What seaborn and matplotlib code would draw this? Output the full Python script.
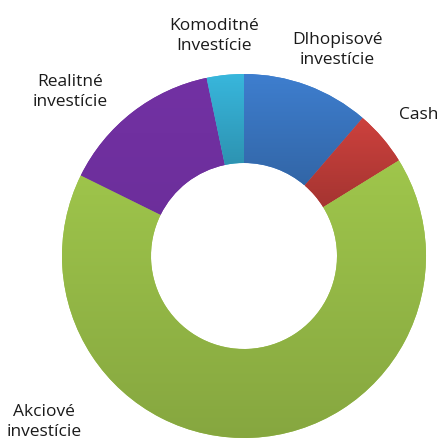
import numpy as np
import seaborn as sns
import matplotlib.pyplot as plt
from matplotlib.colors import LinearSegmentedColormap, to_rgb

# donut chart data (clockwise from top)
labels = ["Dlhopisové\ninvestície", "Cash", "Akciové\ninvestície",
          "Realitné\ninvestície", "Komoditné\nInvestície"]
values = [11.3, 4.9, 66.1, 14.4, 3.3]
colors = ["#3D7CCB", "#C9403C", "#9CC24A", "#7030A0", "#37B3D8"]
shade = [0.82, 0.82, 0.86, 0.97, 0.82]  # how dark the bottom of each gradient gets
# label positions in pixel coords (x, y from top)
label_pos = [(337, 50), (419, 115), (44, 422), (70, 92), (214, 36)]

sns.set_style("white")
plt.rcParams['font.family'] = ['Open Sans', 'DejaVu Sans']

W, H = 440, 441
fig = plt.figure(figsize=(W / 100, H / 100), dpi=100)
ax = fig.add_axes([0, 0, 1, 1])

cx, cy, r_out, r_in = 244, H - 256, 182, 93

wedges, _ = ax.pie(values, colors=colors, startangle=90, counterclock=False,
                   radius=r_out, center=(cx, cy), frame=True,
                   wedgeprops=dict(width=r_out - r_in, edgecolor="none"))

# vertical gradient per wedge (lighter top, darker bottom)
for w, c, s in zip(wedges, colors, shade):
    base = np.array(to_rgb(c))
    top = np.clip(base * 1.02, 0, 1)
    bot = base * s
    cmap = LinearSegmentedColormap.from_list("g", [bot, top])
    bb = w.get_path().get_extents()
    grad = np.linspace(0, 1, 256).reshape(-1, 1)
    im = ax.imshow(grad, cmap=cmap, origin="lower", aspect="auto",
                   extent=(bb.x0, bb.x1, bb.y0, bb.y1), zorder=w.get_zorder())
    im.set_clip_path(w)

ax.set_xlim(0, W)
ax.set_ylim(0, H)
ax.set_aspect("equal")
ax.axis("off")

for lab, (x, y) in zip(labels, label_pos):
    ax.text(x, H - y, lab, ha="center", va="center", fontsize=12.5,
            color="#1a1a1a", linespacing=1.3)

fig.savefig("out.png", dpi=100)
